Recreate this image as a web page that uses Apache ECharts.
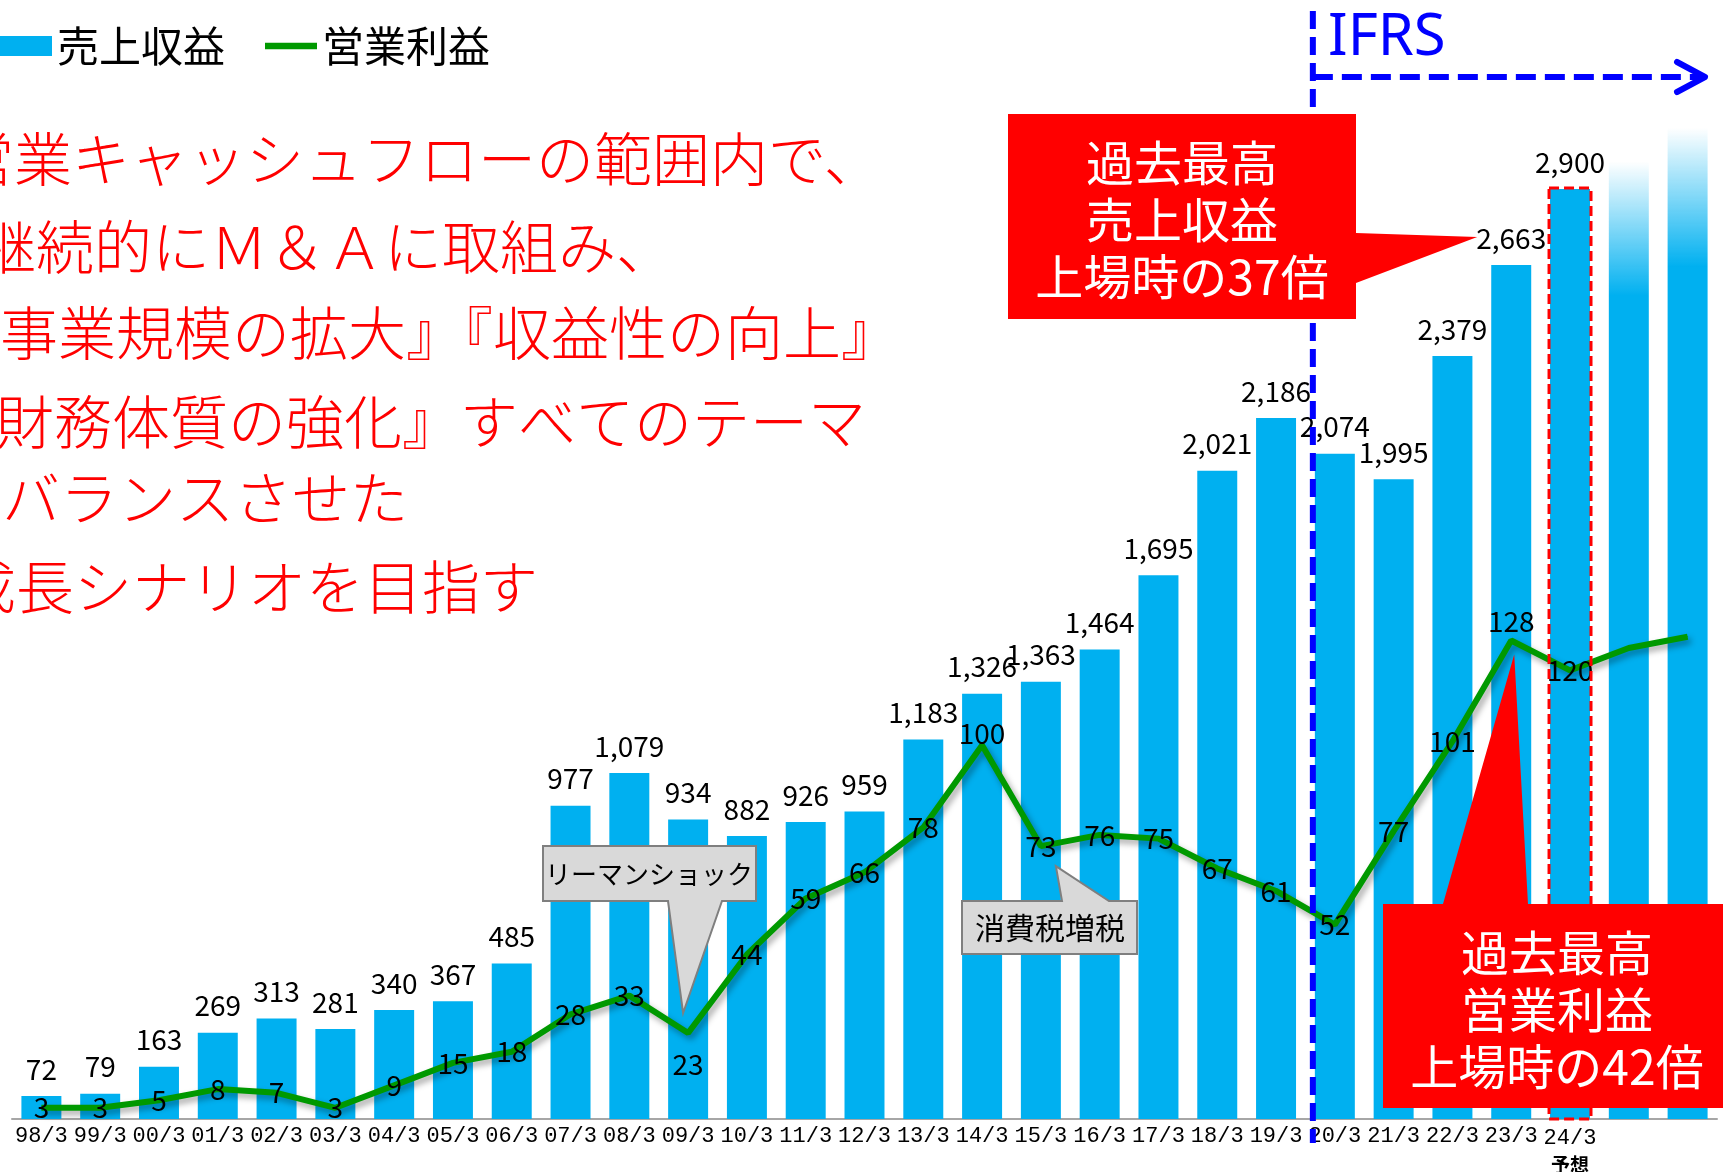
<!DOCTYPE html>
<html>
<head>
    <meta charset="utf-8">
    <title>売上収益・営業利益の推移</title>
    <script src="https://cdn.jsdelivr.net/npm/echarts@6.0.0/dist/echarts.min.js"></script>
    <style type="text/css">
        body {
            margin: 0;
            background: #fff;
        }

        #main {
            width: 1723px;
            height: 1172px;
        }
    </style>
</head>
<body>
<div id="main"></div>
<script>
    // 決算期（最後の2本は目盛なしの将来イメージ）
    var categories = ['98/3', '99/3', '00/3', '01/3', '02/3', '03/3', '04/3', '05/3', '06/3', '07/3',
        '08/3', '09/3', '10/3', '11/3', '12/3', '13/3', '14/3', '15/3', '16/3', '17/3',
        '18/3', '19/3', '20/3', '21/3', '22/3', '23/3', '24/3', '', ''];
    // 売上収益（億円）
    var revenue = [72, 79, 163, 269, 313, 281, 340, 367, 485, 977,
        1079, 934, 882, 926, 959, 1183, 1326, 1363, 1464, 1695,
        2021, 2186, 2074, 1995, 2379, 2663, 2900, 2985, 3090];
    // 営業利益（億円）
    var profit = [3, 3, 5, 8, 7, 3, 9, 15, 18, 28,
        33, 23, 44, 59, 66, 78, 100, 73, 76, 75,
        67, 61, 52, 77, 101, 128, 120, 126, 129];
    var labelledCount = 27;   // 24/3 予想まで数値を表示
    var forecastIndex = 26;   // 24/3 予想
    var ifrsIndex = 22;       // 20/3 から IFRS

    var messageLines = [
        '営業キャッシュフローの範囲内で、',
        '継続的にＭ＆Ａに取組み、',
        '『事業規模の拡大』『収益性の向上』',
        '『財務体質の強化』すべてのテーマ',
        'をバランスさせた',
        '成長シナリオを目指す'
    ];

    var JP = '"Noto Sans CJK JP", sans-serif';
    var MONO = '"Liberation Mono", "DejaVu Sans Mono", monospace';
    var BLUE = '#00B0F0';
    var GREEN = '#009900';

    function fmt(v) {
        return String(v).replace(/\B(?=(\d{3})+(?!\d))/g, ',');
    }

    var barData = revenue.map(function (v, i) {
        var item = {value: v};
        if (i >= labelledCount) {
            item.label = {show: false};
            item.itemStyle = {
                color: new echarts.graphic.LinearGradient(0, 0, 0, 1, [
                    {offset: 0, color: 'rgba(0,176,240,0)'},
                    {offset: 0.14, color: BLUE},
                    {offset: 1, color: BLUE}
                ])
            };
        }
        return item;
    });

    // 線ラベルのずらし（点の上下に逃がすもの）
    var profitLabelOffset = {11: [0, 31], 16: [0, -12], 25: [0, -19]};
    var lineData = profit.map(function (v, i) {
        var item = {value: v};
        if (i >= labelledCount) {
            item.label = {show: false};
        } else if (profitLabelOffset[i]) {
            item.label = {offset: profitLabelOffset[i]};
        }
        return item;
    });

    var myChart = echarts.init(document.getElementById('main'));

    var option = {
        animation: false,
        legend: {
            left: 0,
            top: 25,
            padding: 0,
            itemWidth: 52,
            itemHeight: 20,
            itemGap: 40,
            selectedMode: false,
            textStyle: {fontSize: 42, color: '#000', fontFamily: JP},
            data: [
                {name: '売上収益', icon: 'rect'},
                {name: '営業利益', icon: 'path://M0,0H57V7H0Z'}
            ]
        },
        grid: {
            left: 12,
            right: 6,
            top: 76,
            bottom: 53,
            outerBoundsMode: 'none'
        },
        xAxis: {
            type: 'category',
            data: categories,
            axisLine: {lineStyle: {color: '#A6A6A6', width: 2}},
            axisTick: {length: 6, lineStyle: {color: '#A6A6A6', width: 2}},
            axisLabel: {
                interval: 0,
                margin: 6,
                color: '#000',
                fontSize: 22,
                fontFamily: MONO,
                formatter: function (v, i) {
                    if (i === forecastIndex) {
                        return '{a|' + v + '}\n{b|予想}';
                    }
                    return v;
                },
                rich: {
                    a: {fontSize: 22, lineHeight: 26, fontFamily: MONO, color: '#000'},
                    b: {fontSize: 19, lineHeight: 28, fontWeight: 'bold', fontFamily: JP, color: '#000'}
                }
            }
        },
        yAxis: [
            {type: 'value', min: 0, max: 3252, show: false},
            {type: 'value', min: 0, max: 279, show: false}
        ],
        series: [
            {
                name: '売上収益',
                type: 'bar',
                data: barData,
                barWidth: '68%',
                itemStyle: {color: BLUE},
                label: {
                    show: true,
                    position: 'top',
                    distance: 13,
                    color: '#000',
                    fontSize: 28,
                    fontFamily: JP,
                    formatter: function (p) {
                        return fmt(p.value);
                    }
                },
                z: 2
            },
            {
                name: '営業利益',
                type: 'line',
                yAxisIndex: 1,
                data: lineData,
                symbol: 'circle',
                symbolSize: 1,
                itemStyle: {color: GREEN},
                lineStyle: {
                    color: GREEN,
                    width: 6,
                    shadowColor: 'rgba(0,0,0,0.35)',
                    shadowBlur: 6,
                    shadowOffsetX: 3,
                    shadowOffsetY: 4
                },
                label: {
                    show: true,
                    position: 'inside',
                    color: '#000',
                    fontSize: 28,
                    fontFamily: JP
                },
                z: 3
            }
        ]
    };
    myChart.setOption(option);

    // 注釈はデータ座標から位置を出す
    function toPx(i, v) {
        return myChart.convertToPixel({xAxisIndex: 0, yAxisIndex: 0}, [i, v]);
    }

    function toPx2(i, v) {
        return myChart.convertToPixel({xAxisIndex: 0, yAxisIndex: 1}, [i, v]);
    }

    var band = toPx(1, 0)[0] - toPx(0, 0)[0];
    var barW = band * 0.68;
    var baseY = toPx(0, 0)[1];
    var elements = [];

    // 左の赤いメッセージ（左端で少し切れている）
    var msgX = [-44, -22, -58, -62, -56, -42];
    var msgY = [159, 247, 333, 422, 498, 587];
    messageLines.forEach(function (t, i) {
        elements.push({
            type: 'text', x: msgX[i], y: msgY[i], z: 20,
            style: {text: t, fill: '#FF0000', font: '300 58px ' + JP, verticalAlign: 'middle'}
        });
    });

    // 24/3 予想の赤い破線枠
    var fc = toPx(forecastIndex, revenue[forecastIndex]);
    elements.push({
        type: 'rect', z: 20,
        shape: {x: fc[0] - barW / 2 - 1, y: fc[1] - 1, width: barW + 2, height: baseY - fc[1] + 1},
        style: {fill: null, stroke: '#FF0000', lineWidth: 3, lineDash: [10, 5]}
    });

    // IFRS 境界
    var ifrsX = toPx(ifrsIndex, 0)[0] - barW / 2 - 2;
    elements.push({
        type: 'line', z: 21,
        shape: {x1: ifrsX, y1: 11, x2: ifrsX, y2: 1143},
        style: {stroke: '#0000FF', lineWidth: 6, lineDash: [18, 8]}
    });
    elements.push({
        type: 'line', z: 21,
        shape: {x1: ifrsX, y1: 77, x2: 1700, y2: 77},
        style: {stroke: '#0000FF', lineWidth: 6, lineDash: [20, 9]}
    });
    elements.push({
        type: 'polyline', z: 21,
        shape: {points: [[1677, 62], [1705, 77], [1677, 92]]},
        style: {stroke: '#0000FF', lineWidth: 6, lineCap: 'round', lineJoin: 'round', fill: null}
    });
    elements.push({
        type: 'text', x: 1328, y: 38, z: 21,
        style: {text: 'IFRS', fill: '#0000FF', font: '58px "Noto Sans", sans-serif', verticalAlign: 'middle'}
    });

    // 過去最高 売上収益
    var rv = toPx(25, revenue[25]);
    var rTip = [rv[0] - 34, rv[1] - 28];
    elements.push({
        type: 'polygon', z: 30,
        shape: {points: [[1008, 114], [1356, 114], [1356, 233], rTip, [1356, 283], [1356, 319], [1008, 319]]},
        style: {fill: '#FF0000'}
    });
    elements.push({
        type: 'text', x: 1182, y: 220, z: 31,
        style: {
            text: '過去最高\n売上収益\n上場時の37倍', fill: '#fff', font: '48px ' + JP,
            align: 'center', verticalAlign: 'middle', lineHeight: 57
        }
    });

    // 過去最高 営業利益
    var pv = toPx2(25, profit[25]);
    var pTip = [pv[0] + 3, pv[1] + 14];
    elements.push({
        type: 'polygon', z: 30,
        shape: {points: [[1383, 904], [1443, 904], pTip, [1528, 904], [1723, 904], [1723, 1108], [1383, 1108]]},
        style: {fill: '#FF0000'}
    });
    elements.push({
        type: 'text', x: 1557, y: 1010, z: 31,
        style: {
            text: '過去最高\n営業利益\n上場時の42倍', fill: '#fff', font: '48px ' + JP,
            align: 'center', verticalAlign: 'middle', lineHeight: 57
        }
    });

    // リーマンショック
    var lv = toPx2(11, profit[11]);
    var lTip = [lv[0] - 5, lv[1] - 20];
    elements.push({
        type: 'polygon', z: 30,
        shape: {points: [[543, 846], [756, 846], [756, 901], [722, 901], lTip, [668, 901], [543, 901]]},
        style: {fill: '#D9D9D9', stroke: '#7F7F7F', lineWidth: 2}
    });
    elements.push({
        type: 'text', x: 649, y: 874, z: 31,
        style: {text: 'リーマンショック', fill: '#000', font: '26px ' + JP, align: 'center', verticalAlign: 'middle'}
    });

    // 消費税増税
    var tv = toPx2(17, profit[17]);
    var tTip = [tv[0] + 15, tv[1] + 20];
    elements.push({
        type: 'polygon', z: 30,
        shape: {points: [[962, 901], [1062, 901], tTip, [1109, 901], [1137, 901], [1137, 954], [962, 954]]},
        style: {fill: '#D9D9D9', stroke: '#7F7F7F', lineWidth: 2}
    });
    elements.push({
        type: 'text', x: 1050, y: 928, z: 31,
        style: {text: '消費税増税', fill: '#000', font: '30px ' + JP, align: 'center', verticalAlign: 'middle'}
    });

    myChart.setOption({graphic: {elements: elements}});
</script>
</body>
</html>
